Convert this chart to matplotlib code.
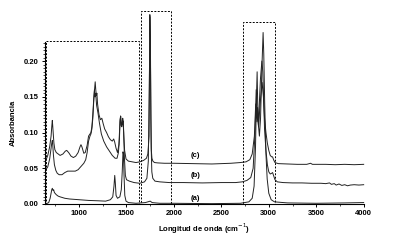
import matplotlib
matplotlib.use("Agg")
import matplotlib.pyplot as plt
from matplotlib.patches import Rectangle
from matplotlib.ticker import MultipleLocator

plt.rcParams['font.family'] = ['Liberation Sans', 'DejaVu Sans']

# (c) espectro superior
wn_c = [650, 670, 690, 705, 712, 718, 722, 728, 735, 745, 760, 780, 800, 830, 855, 870,
        890, 915, 940, 965, 990, 1010, 1020, 1030, 1050, 1065, 1085, 1100, 1115, 1125,
        1135, 1145, 1155, 1163, 1170, 1176, 1182, 1188, 1195, 1210, 1225, 1240, 1255,
        1270, 1290, 1310, 1330, 1350, 1365, 1375, 1390, 1405, 1420, 1432, 1438, 1445,
        1452, 1460, 1466, 1472, 1480, 1495, 1520, 1560, 1600, 1640, 1680, 1710, 1725,
        1738, 1746, 1752, 1757, 1762, 1768, 1778, 1795, 1830, 1900, 2000, 2200, 2400,
        2600, 2700, 2760, 2800, 2825, 2848, 2862, 2875, 2883, 2893, 2903, 2915, 2930,
        2943, 2955, 2970, 2985, 3000, 3015, 3030, 3040, 3050, 3065, 3100, 3200, 3300,
        3400, 3440, 3460, 3500, 3600, 3700, 3800, 3900, 4000]
abs_c = [0.061, 0.068, 0.080, 0.095, 0.108, 0.117, 0.110, 0.098, 0.085, 0.076, 0.072,
         0.070, 0.068, 0.070, 0.074, 0.075, 0.072, 0.067, 0.065, 0.067, 0.072, 0.080,
         0.083, 0.080, 0.071, 0.072, 0.082, 0.095, 0.098, 0.100, 0.108, 0.125, 0.148,
         0.160, 0.171, 0.160, 0.152, 0.155, 0.140, 0.125, 0.118, 0.120, 0.112, 0.105,
         0.100, 0.094, 0.090, 0.088, 0.091, 0.087, 0.078, 0.072, 0.083, 0.118, 0.123,
         0.110, 0.112, 0.120, 0.116, 0.095, 0.075, 0.063, 0.060, 0.059, 0.058, 0.059,
         0.061, 0.064, 0.070, 0.095, 0.265, 0.230, 0.120, 0.075, 0.064, 0.060, 0.058,
         0.0575, 0.057, 0.057, 0.0565, 0.056, 0.057, 0.058, 0.059, 0.062, 0.070, 0.095,
         0.140, 0.115, 0.125, 0.108, 0.130, 0.150, 0.170, 0.150, 0.120, 0.100, 0.085,
         0.075, 0.068, 0.066, 0.066, 0.062, 0.058, 0.0565, 0.056, 0.0555, 0.0555,
         0.057, 0.0555, 0.0555, 0.0555, 0.055, 0.0555, 0.055, 0.0555]

# (b) espectro intermedio
wn_b = [650, 670, 690, 705, 712, 718, 723, 730, 740, 755, 770, 790, 820, 850, 880, 920,
        960, 990, 1010, 1030, 1050, 1070, 1085, 1100, 1115, 1125, 1135, 1145, 1155,
        1162, 1168, 1175, 1185, 1200, 1215, 1235, 1260, 1290, 1320, 1350, 1380, 1400,
        1415, 1425, 1432, 1438, 1444, 1450, 1458, 1464, 1470, 1478, 1488, 1500, 1530,
        1580, 1640, 1690, 1715, 1730, 1740, 1748, 1754, 1760, 1767, 1777, 1800, 1850,
        1950, 2100, 2300, 2500, 2650, 2720, 2770, 2810, 2835, 2855, 2867, 2875, 2882,
        2890, 2900, 2912, 2927, 2937, 2945, 2955, 2970, 2985, 3000, 3015, 3030, 3040,
        3050, 3065, 3090, 3150, 3250, 3350, 3450, 3550, 3600, 3640, 3660, 3690, 3710,
        3740, 3770, 3800, 3830, 3860, 3900, 3950, 4000]
abs_b = [0.048, 0.052, 0.063, 0.078, 0.085, 0.089, 0.082, 0.068, 0.055, 0.047, 0.043,
         0.041, 0.041, 0.044, 0.046, 0.046, 0.046, 0.048, 0.051, 0.054, 0.057, 0.062,
         0.072, 0.088, 0.095, 0.098, 0.105, 0.120, 0.145, 0.160, 0.150, 0.155, 0.138,
         0.127, 0.113, 0.098, 0.088, 0.080, 0.074, 0.068, 0.064, 0.064, 0.072, 0.090,
         0.115, 0.123, 0.110, 0.108, 0.113, 0.116, 0.100, 0.065, 0.040, 0.034, 0.032,
         0.030, 0.029, 0.031, 0.036, 0.060, 0.163, 0.262, 0.180, 0.080, 0.045, 0.036,
         0.032, 0.031, 0.030, 0.030, 0.0295, 0.030, 0.030, 0.031, 0.033, 0.037, 0.050,
         0.100, 0.160, 0.120, 0.135, 0.110, 0.140, 0.175, 0.200, 0.185, 0.150, 0.105,
         0.075, 0.055, 0.045, 0.042, 0.043, 0.044, 0.040, 0.034, 0.031, 0.030, 0.0295,
         0.0295, 0.029, 0.029, 0.0285, 0.0295, 0.0275, 0.0285, 0.0265, 0.028, 0.026,
         0.027, 0.0255, 0.0265, 0.027, 0.0265, 0.027]

# (a) espectro inferior
wn_a = [650, 680, 695, 705, 712, 718, 725, 732, 740, 760, 780, 800, 850, 900, 1000,
        1100, 1200, 1280, 1330, 1355, 1368, 1376, 1382, 1390, 1405, 1430, 1445, 1455,
        1463, 1468, 1474, 1482, 1495, 1520, 1600, 1700, 1750, 1770, 1850, 2000, 2400,
        2700, 2790, 2825, 2845, 2860, 2870, 2877, 2883, 2891, 2901, 2913, 2927, 2940,
        2947, 2957, 2970, 2983, 3000, 3025, 3060, 3200, 3500, 3800, 4000]
abs_a = [0.000, 0.002, 0.008, 0.015, 0.020, 0.022, 0.019, 0.020, 0.016, 0.013, 0.011,
         0.010, 0.008, 0.007, 0.006, 0.005, 0.0045, 0.004, 0.006, 0.010, 0.025, 0.040,
         0.030, 0.012, 0.008, 0.010, 0.020, 0.045, 0.073, 0.070, 0.040, 0.012, 0.004,
         0.002, 0.001, 0.002, 0.004, 0.002, 0.001, 0.001, 0.0005, 0.001, 0.003, 0.008,
         0.025, 0.080, 0.150, 0.185, 0.140, 0.110, 0.095, 0.120, 0.190, 0.240, 0.210,
         0.140, 0.070, 0.035, 0.015, 0.006, 0.003, 0.0015, 0.001, 0.0015, 0.002]

series = [(wn_a, abs_a, '(a)', 0.008), (wn_b, abs_b, '(b)', 0.040), (wn_c, abs_c, '(c)', 0.068)]

# regiones marcadas (x0, x1, y1)
boxes = [(650, 1627, 0.228), (1655, 1965, 0.270), (2730, 3067, 0.254)]

fig = plt.figure(figsize=(3.94, 2.5), dpi=100)
ax = fig.add_axes([0.114, 0.184, 0.809, 0.646])

for wn, ab, lab, ly in series:
    ax.plot(wn, ab, c='#222222', lw=0.7, clip_on=False)
    ax.text(2230, ly, lab, fontsize=5.5, fontweight='bold', ha='center', va='center')

for x0, x1, y1 in boxes:
    ax.add_patch(Rectangle((x0, 0), x1 - x0, y1, fill=False, ec='black', lw=0.7,
                           ls=(0, (2, 1.5)), clip_on=False))

ax.set_xlim(640, 4000)
ax.set_ylim(0, 0.226)
ax.xaxis.set_minor_locator(MultipleLocator(250))
ax.yaxis.set_major_locator(MultipleLocator(0.05))
ax.yaxis.set_minor_locator(MultipleLocator(0.005))
ax.set_xticks([1000, 1500, 2000, 2500, 3000, 3500, 4000])
ax.yaxis.set_major_formatter(plt.FuncFormatter(lambda v, p: f"{v:.2f}"))

for s in ['top', 'right']:
    ax.spines[s].set_visible(False)
for s in ['left', 'bottom']:
    ax.spines[s].set_linewidth(0.8)

ax.tick_params(axis='both', which='major', labelsize=5.5, length=2.5, width=0.7, pad=2)
ax.tick_params(axis='both', which='minor', length=1.3, width=0.5)
for t in ax.get_xticklabels() + ax.get_yticklabels():
    t.set_fontweight('bold')

ax.set_xlabel('Longitud de onda (cm$^{-1}$)', fontsize=5.5, fontweight='bold', labelpad=3)
ax.set_ylabel('Absorbancia', fontsize=5.5, fontweight='bold', labelpad=5)

fig.savefig('out.png', dpi=100)
